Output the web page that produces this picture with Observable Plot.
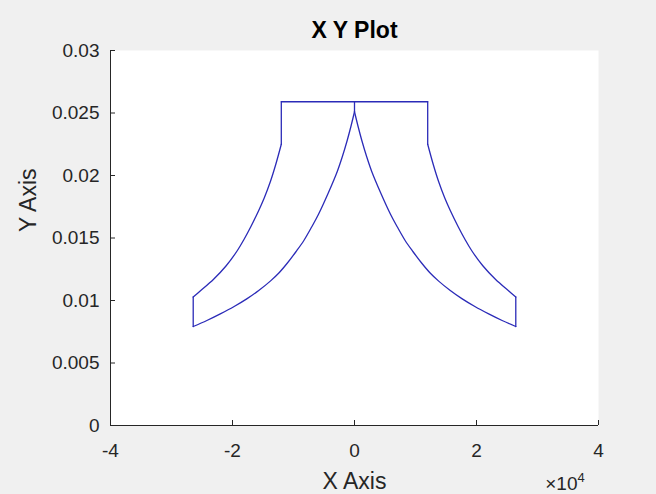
<!DOCTYPE html>
<html><head><meta charset="utf-8">
<script src="https://cdn.jsdelivr.net/npm/d3@7"></script>
<script src="https://cdn.jsdelivr.net/npm/@observablehq/plot@0.6"></script>
<style>
html,body{margin:0;padding:0;background:#f0f0f0;}
</style></head><body><div id="chart"></div>
<script>
const title = "X Y Plot";
const xLabel = "X Axis";
const yLabel = "Y Axis";
const xExponentBase = "\u00d710";
const xExponent = "4";
const xTicks = [-40000, -20000, 0, 20000, 40000];
const xTickLabels = ["-4", "-2", "0", "2", "4"];
const yTicks = [0, 0.005, 0.01, 0.015, 0.02, 0.025, 0.03];
const yTickLabels = ["0", "0.005", "0.01", "0.015", "0.02", "0.025", "0.03"];

const topY = 0.0259;
const peakY = 0.0251;
const shoulderLeftX = -12000;
const shoulderRightX = 12000;
const edgeLeftX = -26440;
const edgeRightX = 26440;

const innerLeftX = [0, -600, -1200, -2000, -2840, -4300, -5900, -7000, -8300, -9600, -11000, -12400, -13800, -15700, -17600, -19800, -22000, -24200, -26440];
const innerLeftY = [0.0251, 0.0239, 0.0228, 0.0215, 0.0203, 0.0186, 0.0169, 0.0159, 0.0148, 0.0139, 0.0130, 0.0122, 0.01155, 0.0108, 0.01015, 0.0095, 0.00893, 0.0084, 0.00792];
const outerLeftX = [-12000, -12900, -13800, -14800, -15700, -17000, -18100, -19200, -21000, -23100, -25250, -26440];
const outerLeftY = [0.0225, 0.0209, 0.0195, 0.0182, 0.0172, 0.0159, 0.0149, 0.0140, 0.0128, 0.0117, 0.01078, 0.01028];

const innerRightX = [0, 600, 1200, 2000, 2840, 4300, 5900, 7000, 8300, 9600, 11000, 12400, 13800, 15700, 17600, 19800, 22000, 24200, 26440];
const innerRightY = [0.0251, 0.0239, 0.0228, 0.0215, 0.0203, 0.0186, 0.0169, 0.0159, 0.0148, 0.0139, 0.0130, 0.0122, 0.01155, 0.0108, 0.01015, 0.0095, 0.00893, 0.0084, 0.00792];
const outerRightX = [12000, 12900, 13800, 14800, 15700, 17000, 18100, 19200, 21000, 23100, 25250, 26440];
const outerRightY = [0.0225, 0.0209, 0.0195, 0.0182, 0.0172, 0.0159, 0.0149, 0.0140, 0.0128, 0.0117, 0.01078, 0.01028];

// curved pieces of the outline
const curves = [];
const addCurve = (id, xs, ys) => xs.forEach((x, i) => curves.push({id, x, y: ys[i]}));
addCurve("innerLeft", innerLeftX, innerLeftY);
addCurve("innerRight", innerRightX, innerRightY);
addCurve("outerLeft", outerLeftX, outerLeftY);
addCurve("outerRight", outerRightX, outerRightY);

// straight pieces of the outline
const straights = [
  {id: "top", x: shoulderLeftX, y: topY}, {id: "top", x: shoulderRightX, y: topY},
  {id: "center", x: 0, y: peakY}, {id: "center", x: 0, y: topY},
  {id: "shoulderL", x: shoulderLeftX, y: topY}, {id: "shoulderL", x: shoulderLeftX, y: outerLeftY[0]},
  {id: "shoulderR", x: shoulderRightX, y: topY}, {id: "shoulderR", x: shoulderRightX, y: outerRightY[0]},
  {id: "edgeL", x: edgeLeftX, y: outerLeftY[outerLeftY.length - 1]}, {id: "edgeL", x: edgeLeftX, y: innerLeftY[innerLeftY.length - 1]},
  {id: "edgeR", x: edgeRightX, y: outerRightY[outerRightY.length - 1]}, {id: "edgeR", x: edgeRightX, y: innerRightY[innerRightY.length - 1]}
];

const ink = "#262626";
const lineColor = "#2b2bb8";
const plot = Plot.plot({
  width: 656,
  height: 494,
  marginLeft: 110,
  marginRight: 58,
  marginTop: 50,
  marginBottom: 69,
  style: {background: "#f0f0f0", fontFamily: "'Liberation Sans', Arial, sans-serif", fontSize: "19px", color: ink, overflow: "visible"},
  x: {domain: [xTicks[0], xTicks[xTicks.length - 1]]},
  y: {domain: [yTicks[0], yTicks[yTicks.length - 1]]},
  marks: [
    Plot.frame({fill: "white", stroke: "none"}),
    // labels
    Plot.axisX({ticks: xTicks, tickFormat: d => xTickLabels[xTicks.indexOf(d)], tickSize: 0, tickPadding: 18, label: null, fill: ink}),
    Plot.axisY({ticks: yTicks, tickFormat: d => yTickLabels[yTicks.indexOf(d)], tickSize: 0, tickPadding: 11, label: null, fill: ink}),
    // inward tick marks
    Plot.axisX({ticks: xTicks, text: null, tickSize: 5, dy: -5, label: null, stroke: ink}),
    Plot.axisY({ticks: yTicks, text: null, tickSize: 5, dx: 5, label: null, stroke: ink}),
    Plot.ruleX([xTicks[0]], {stroke: ink}),
    Plot.ruleY([yTicks[0]], {stroke: ink}),
    Plot.line(curves, {x: "x", y: "y", z: "id", curve: "catmull-rom", stroke: lineColor, strokeWidth: 1.3}),
    Plot.line(straights, {x: "x", y: "y", z: "id", stroke: lineColor, strokeWidth: 1.3}),
    Plot.text([title], {text: d => d, frameAnchor: "top", lineAnchor: "bottom", dy: -13, fontWeight: "bold", fontSize: 23, fill: "#000"}),
    Plot.text([xLabel], {text: d => d, frameAnchor: "bottom", lineAnchor: "bottom", dy: 63, fontSize: 23, fill: ink}),
    Plot.text([yLabel], {text: d => d, frameAnchor: "left", rotate: -90, lineAnchor: "bottom", dx: -75, dy: -6, fontSize: 23, fill: ink}),
    Plot.text([xExponentBase], {text: d => d, frameAnchor: "bottom-right", textAnchor: "end", lineAnchor: "bottom", dx: -21, dy: 64, fontSize: 19, fill: ink}),
    Plot.text([xExponent], {text: d => d, frameAnchor: "bottom-right", textAnchor: "start", lineAnchor: "bottom", dx: -21, dy: 56, fontSize: 13, fill: ink})
  ]
});
document.getElementById("chart").appendChild(plot);
</script></body></html>
